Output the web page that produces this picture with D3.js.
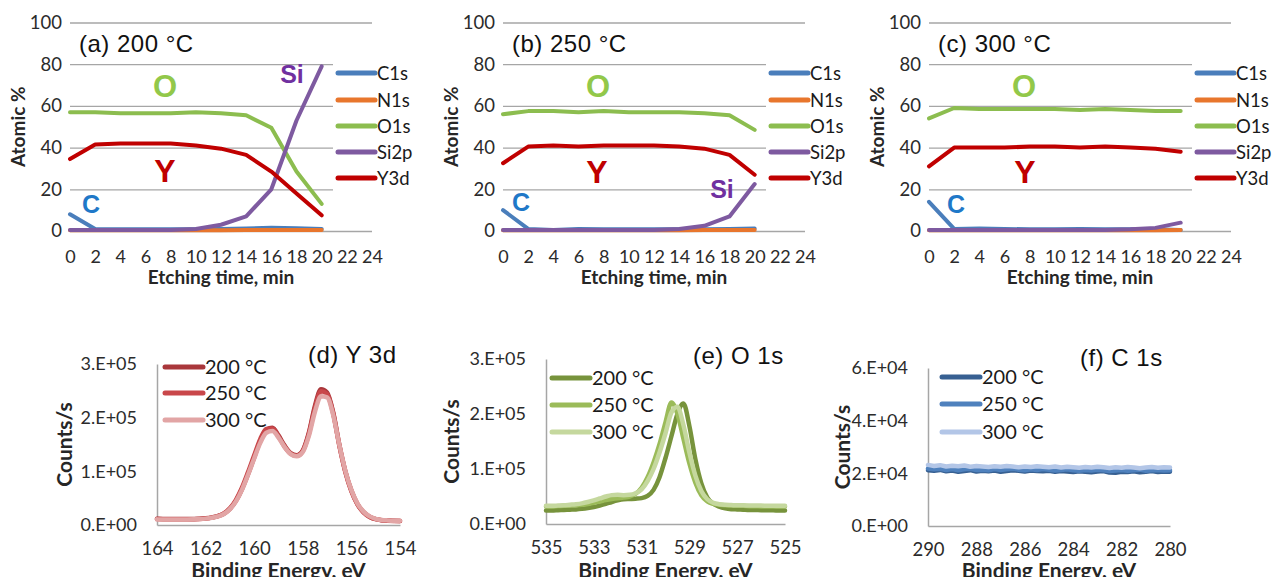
<!DOCTYPE html>
<html><head><meta charset="utf-8">
<script src="https://cdn.jsdelivr.net/npm/d3@7"></script>
<style>
body{margin:0;background:#fff;}
svg{display:block;}
</style>
</head><body>
<svg id="chart" width="1272" height="577"></svg>
<script>
// ---------- Depth profiles (top row) ----------
const etchTime = [0,2,4,6,8,10,12,14,16,18,20];
const etchTicks = [0,2,4,6,8,10,12,14,16,18,20,22,24];
const atomicTicks = [0,20,40,60,80,100];
const elements = ["C1s","N1s","O1s","Si2p","Y3d"];

const a_C1s  = [8,1,0.8,0.8,0.8,0.8,1,1.2,1.5,1.3,1];
const a_N1s  = [0.3,0.3,0.3,0.3,0.3,0.3,0.3,0.5,0.5,0.5,0.5];
const a_O1s  = [57,57,56.5,56.5,56.5,57,56.5,55.5,49.5,28.5,13];
const a_Si2p = [0.5,0.5,0.5,0.5,0.5,1,3,7,20,53,79];
const a_Y3d  = [34.5,41.5,42,42,42,41,39.5,36.5,28.5,18,7.5];

const b_C1s  = [10,1,0.5,1,0.8,0.8,0.8,0.8,0.8,1,1.2];
const b_N1s  = [0.3,0.3,0.3,0.3,0.3,0.3,0.3,0.3,0.5,0.5,0.5];
const b_O1s  = [56,57.5,57.5,57,57.5,57,57,57,56.5,55.5,48.5];
const b_Si2p = [0.5,0.5,0.5,0.5,0.5,0.5,0.5,1,2.5,7,22.5];
const b_Y3d  = [32.5,40.5,41,40.5,41,41,41,40.5,39.5,36.5,27];

const c_C1s  = [14,1,1.2,1,0.8,0.8,1,0.8,0.8,0.8,0.5];
const c_N1s  = [0.3,0.3,0.3,0.3,0.3,0.3,0.3,0.3,0.3,0.3,0.5];
const c_O1s  = [54,59,58.5,58.5,58.5,58.5,58,58.5,58,57.5,57.5];
const c_Si2p = [0.5,0.5,0.5,0.5,0.5,0.5,0.5,0.5,0.8,1.5,4];
const c_Y3d  = [31,40,40,40,40.5,40.5,40,40.5,40,39.5,38];

// ---------- Spectra (bottom row) ----------
const temps = ["200 °C","250 °C","300 °C"];

const energyY3d = [164,163.75,163.5,163.25,163,162.75,162.5,162.25,162,161.75,161.5,161.25,161,160.75,160.5,160.25,160,159.75,159.5,159.25,159,158.75,158.5,158.25,158,157.75,157.5,157.25,157,156.75,156.5,156.25,156,155.75,155.5,155.25,155,154.75,154.5,154.25,154];
const y3d_200 = [11500,11300,11200,11000,11000,11000,11200,11600,12500,14000,16500,21000,30000,45000,67000,95000,126000,157000,178000,181000,167000,148000,134000,130000,139000,172000,222000,253000,247000,210000,150000,100000,64000,39000,24000,15500,11000,9000,8200,7800,7500];
const y3d_250 = [11000,10800,10700,10600,10600,10700,10900,11300,12200,13800,16500,21500,31000,47000,70000,99000,130000,160000,179000,180000,165000,146000,133000,129000,138000,170000,218000,249000,244000,208000,149000,99000,63000,38500,23500,15000,10800,8800,8000,7600,7400];
const y3d_300 = [10500,10300,10200,10200,10300,10400,10600,11000,11900,13500,16000,20500,29500,44000,66000,94000,124000,153000,172000,175000,163000,145000,132000,128000,136000,166000,211000,240000,238000,205000,150000,101000,65000,40000,25000,16000,11500,9300,8500,8000,7800];
const y3dXTicks = [164,162,160,158,156,154];
const y3dYTicks = [0,100000,200000,300000];

const energyO1s = [535,534.75,534.5,534.25,534,533.75,533.5,533.25,533,532.75,532.5,532.25,532,531.75,531.5,531.25,531,530.75,530.5,530.25,530,529.75,529.5,529.25,529,528.75,528.5,528.25,528,527.75,527.5,527.25,527,526.75,526.5,526.25,526,525.75,525.5,525.25,525];
const o1s_200 = [24500,24500,25000,25500,26000,26500,27500,29000,31000,33500,36500,40000,43000,45000,45500,46000,47000,51000,62000,85000,120000,160000,200000,219000,178000,118000,74000,48000,37000,31500,28500,27000,26500,26000,25500,25500,25000,25000,25000,24500,24500];
const o1s_250 = [32000,32000,32500,33000,33500,34000,35000,36500,38500,41000,43500,45500,47000,48000,50000,55000,66000,85000,112000,145000,185000,221000,200000,155000,110000,75000,52000,41000,36500,35000,34000,33500,33000,33000,32500,32500,32000,32000,32000,32000,32000];
const o1s_300 = [33000,33000,33500,34000,35000,36000,37500,40000,43000,46500,50000,52500,53000,52500,53000,56000,63000,78000,100000,130000,165000,203000,213000,180000,130000,88000,60000,45000,38500,36000,35000,34500,34000,34000,33500,33500,33500,33000,33000,33000,33000];
const o1sXTicks = [535,533,531,529,527,525];
const o1sYTicks = [0,100000,200000,300000];

const energyC1s = [290,289.75,289.5,289.25,289,288.75,288.5,288.25,288,287.75,287.5,287.25,287,286.75,286.5,286.25,286,285.75,285.5,285.25,285,284.75,284.5,284.25,284,283.75,283.5,283.25,283,282.75,282.5,282.25,282,281.75,281.5,281.25,281,280.75,280.5,280.25,280];
const c1s_200 = [21200,21000,21300,20800,21100,20600,20900,21200,20700,21000,20800,21100,20600,20900,21200,21000,20700,21100,20900,20800,21000,20600,20900,20700,20500,20800,20600,20400,20700,20900,20300,20200,20600,20500,20800,20400,20600,20900,20500,20700,20600];
const c1s_250 = [21800,21500,21700,21300,21600,21200,21500,21700,21300,21400,21200,21600,21300,21500,21700,21400,21200,21500,21300,21600,21400,21100,21300,21500,21200,21000,21300,21100,21400,21200,20900,21100,21300,21000,21200,21400,21000,21200,21300,21100,21200];
const c1s_300 = [23200,22800,23100,22600,22900,22700,23000,22500,22800,22600,22400,22700,22500,22800,22600,22300,22600,22400,22700,22500,22300,22600,22200,22500,22300,22100,22400,22200,22500,22300,22000,22300,22100,22400,22200,21900,22200,22400,22100,22300,22200];
const c1sXTicks = [290,288,286,284,282,280];
const c1sYTicks = [0,20000,40000,60000];

// ---------- styles ----------
const elementColors = ["#4a7ebb","#e8762d","#8cbd4f","#7e5aa0","#c00000"];
const redShades = ["#a9373b","#c9474a","#e2a5a5"];
const greenShades = ["#77933c","#9bbb59","#c5d89e"];
const blueShades = ["#376092","#4f81bd","#b3c6e7"];
const gridColor = "#a6a6a6";
const tickFont = "Lato, 'Open Sans', sans-serif";
const titleFont = "'Liberation Sans', Arial, sans-serif";

const svg = d3.select("#chart");

function styleAxisText(g, size){
  g.attr("font-family", tickFont).attr("font-size", size);
  g.selectAll("text").attr("fill","#2b2b2b");
}

function topPanel(cfg){
  const x0 = cfg.x0, w = 302, top = 22.5, bottom = 231;
  const x = d3.scaleLinear().domain([0,24]).range([x0, x0+w]);
  const y = d3.scaleLinear().domain([0,100]).range([bottom, top]);
  const g = svg.append("g");

  const ya = g.append("g").attr("transform",`translate(${x0},0)`)
    .call(d3.axisLeft(y).tickValues(atomicTicks).tickSize(-w).tickPadding(8));
  ya.select(".domain").remove();
  ya.selectAll("line").attr("stroke", gridColor).attr("stroke-width",1.3);
  styleAxisText(ya, 18.5);

  const xa = g.append("g").attr("transform",`translate(0,${bottom})`)
    .call(d3.axisBottom(x).tickValues(etchTicks).tickSize(0));
  xa.select(".domain").remove();
  xa.selectAll("text").attr("y",26).attr("dy","0.35em");
  styleAxisText(xa, 18);

  // legend background (hides part of gridlines like the original)
  g.append("rect").attr("x", x0+263).attr("y", 58).attr("width", 90).attr("height", 136).attr("fill","#fff");

  const series = cfg.series;
  const line = d3.line().x((d,i)=>x(etchTime[i])).y(d=>y(d));
  series.forEach((s,k)=>{
    g.append("path").attr("d", line(s)).attr("fill","none")
      .attr("stroke", elementColors[k]).attr("stroke-width",4)
      .attr("stroke-linejoin","round").attr("stroke-linecap","round");
  });

  // legend
  const rows = [73,100,126,152,178];
  elements.forEach((name,k)=>{
    g.append("line").attr("x1",x0+268).attr("x2",x0+305).attr("y1",rows[k]).attr("y2",rows[k])
      .attr("stroke", elementColors[k]).attr("stroke-width",5).attr("stroke-linecap","round");
    g.append("text").attr("x",x0+307).attr("y",rows[k]).attr("dy","0.36em")
      .attr("font-family",tickFont).attr("font-size",18.5).attr("fill","#1a1a1a").text(name);
  });

  // axis titles
  g.append("text").attr("x",(x0+x0+w)/2).attr("y",284).attr("text-anchor","middle")
    .attr("font-family",tickFont).attr("font-weight","bold").attr("font-size",19).attr("fill","#262626")
    .text("Etching time, min");
  g.append("text").attr("transform",`translate(${x0-52},${(top+bottom)/2}) rotate(-90)`)
    .attr("text-anchor","middle").attr("dy","0.35em")
    .attr("font-family",tickFont).attr("font-weight","bold").attr("font-size",19).attr("fill","#262626")
    .text("Atomic %");

  // panel title
  g.append("text").attr("x",x0+9).attr("y",52).attr("font-family",titleFont).attr("font-size",24)
    .attr("letter-spacing","0.5px").attr("fill","#111").text(cfg.title);

  // element annotations
  cfg.notes.forEach(n=>{
    g.append("text").attr("x",n.x).attr("y",n.y).attr("text-anchor","middle")
      .attr("font-family",titleFont).attr("font-weight","bold").attr("font-size",n.size)
      .attr("fill",n.color).text(n.t);
  });
}

topPanel({x0:70, title:"(a) 200 °C", series:[a_C1s,a_N1s,a_O1s,a_Si2p,a_Y3d],
  notes:[{t:"O",x:165,y:97,size:31,color:"#92c84a"},{t:"Y",x:165,y:182,size:32,color:"#c00000"},
         {t:"C",x:91,y:213,size:25,color:"#1f78c8"},{t:"Si",x:292,y:83,size:25,color:"#7030a0"}]});
topPanel({x0:503, title:"(b) 250 °C", series:[b_C1s,b_N1s,b_O1s,b_Si2p,b_Y3d],
  notes:[{t:"O",x:598,y:97,size:31,color:"#92c84a"},{t:"Y",x:597,y:183,size:32,color:"#c00000"},
         {t:"C",x:521,y:211,size:25,color:"#1f78c8"},{t:"Si",x:722,y:198,size:25,color:"#7030a0"}]});
topPanel({x0:929, title:"(c) 300 °C", series:[c_C1s,c_N1s,c_O1s,c_Si2p,c_Y3d],
  notes:[{t:"O",x:1024,y:97,size:31,color:"#92c84a"},{t:"Y",x:1025,y:183,size:32,color:"#c00000"},
         {t:"C",x:956,y:213,size:25,color:"#1f78c8"}]});

function sciFmt(v){
  if (v === 0) return "0.E+00";
  const e = Math.floor(Math.log10(v));
  const m = Math.round(v/Math.pow(10,e));
  return m + ".E+" + String(e).padStart(2,"0");
}

function bottomPanel(cfg){
  const x = d3.scaleLinear().domain(cfg.xDomain).range([cfg.x0, cfg.x1]);
  const y = d3.scaleLinear().domain(cfg.yDomain).range([cfg.yb, cfg.yt]);
  const g = svg.append("g");

  const ya = g.append("g").attr("transform",`translate(${cfg.x0},0)`)
    .call(d3.axisLeft(y).tickValues(cfg.yTicks).tickFormat(sciFmt).tickSize(0).tickPadding(20));
  ya.select(".domain").attr("stroke",gridColor).attr("stroke-width",1.5);
  styleAxisText(ya, 18);

  const xa = g.append("g").attr("transform",`translate(0,${cfg.yb})`)
    .call(d3.axisBottom(x).tickValues(cfg.xTicks).tickFormat(d3.format("d")).tickSize(0));
  xa.select(".domain").attr("stroke",gridColor).attr("stroke-width",1.5);
  xa.selectAll("text").attr("y",24).attr("dy","0.35em");
  styleAxisText(xa, 18.5);

  const line = d3.line().x((d,i)=>x(cfg.energy[i])).y(d=>y(d)).curve(cfg.curve);
  cfg.series.forEach((s,k)=>{
    g.append("path").attr("d", line(s)).attr("fill","none")
      .attr("stroke", cfg.colors[k]).attr("stroke-width",4.5)
      .attr("stroke-linejoin","round").attr("stroke-linecap","round");
  });

  temps.forEach((t,k)=>{
    const ry = cfg.legendRows[k];
    g.append("line").attr("x1",cfg.legX).attr("x2",cfg.legX+38).attr("y1",ry).attr("y2",ry)
      .attr("stroke", cfg.colors[k]).attr("stroke-width",5).attr("stroke-linecap","round");
    g.append("text").attr("x",cfg.legX+40).attr("y",ry).attr("dy","0.36em")
      .attr("font-family",tickFont).attr("font-size",20).attr("fill","#1a1a1a").text(t);
  });

  g.append("text").attr("x",(cfg.x0+cfg.x1)/2).attr("y",578).attr("text-anchor","middle")
    .attr("font-family",tickFont).attr("font-weight","bold").attr("font-size",21).attr("fill","#262626")
    .text("Binding Energy, eV");
  g.append("text").attr("transform",`translate(${cfg.x0-cfg.ylabOff},${(cfg.yt+cfg.yb)/2}) rotate(-90)`)
    .attr("text-anchor","middle").attr("dy","0.35em")
    .attr("font-family",tickFont).attr("font-weight","bold").attr("font-size",21).attr("fill","#262626")
    .text("Counts/s");

  g.append("text").attr("x",cfg.titleX).attr("y",cfg.titleY).attr("font-family",titleFont).attr("font-size",24)
    .attr("letter-spacing","0.5px").attr("fill","#111").text(cfg.title);
}

bottomPanel({x0:157, x1:400, yt:364, yb:525, xDomain:[164,154], yDomain:[0,300000],
  xTicks:y3dXTicks, yTicks:y3dYTicks, energy:energyY3d, series:[y3d_200,y3d_250,y3d_300],
  colors:redShades, curve:d3.curveMonotoneX, legX:165, legendRows:[367,393,420],
  ylabOff:92, title:"(d) Y 3d", titleX:308, titleY:363});
bottomPanel({x0:546, x1:785, yt:359, yb:524, xDomain:[535,525], yDomain:[0,300000],
  xTicks:o1sXTicks, yTicks:o1sYTicks, energy:energyO1s, series:[o1s_200,o1s_250,o1s_300],
  colors:greenShades, curve:d3.curveMonotoneX, legX:552, legendRows:[378,405,432],
  ylabOff:94, title:"(e) O 1s", titleX:693, titleY:364});
bottomPanel({x0:928, x1:1170, yt:368, yb:526, xDomain:[290,280], yDomain:[0,60000],
  xTicks:c1sXTicks, yTicks:c1sYTicks, energy:energyC1s, series:[c1s_200,c1s_250,c1s_300],
  colors:blueShades, curve:d3.curveLinear, legX:942, legendRows:[377,404,432],
  ylabOff:85, title:"(f) C 1s", titleX:1080, titleY:366});
</script>
</body></html>
